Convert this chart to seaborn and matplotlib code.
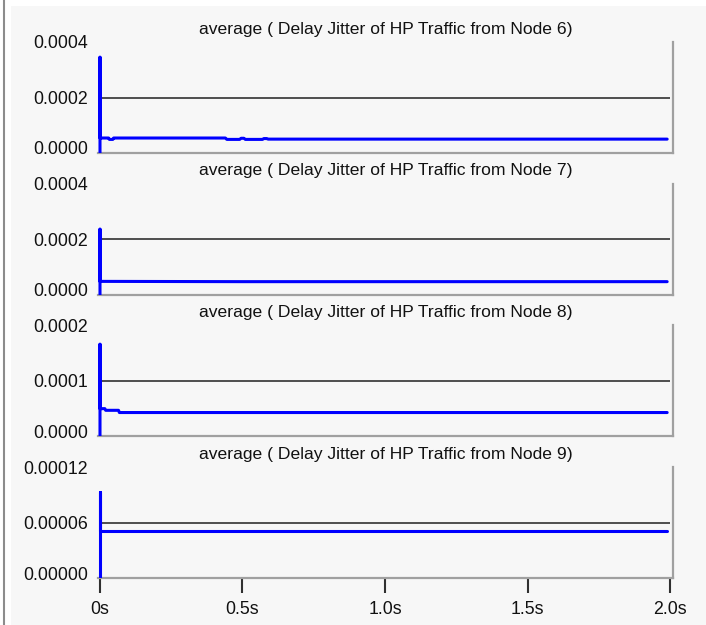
import matplotlib
matplotlib.use("Agg")
import matplotlib.pyplot as plt
from matplotlib.patches import Rectangle
from matplotlib.lines import Line2D
import matplotlib.transforms as mtransforms
import seaborn as sns
import pandas as pd

sns.set_theme(style="white")
plt.rcParams["font.family"] = ["Liberation Sans", "DejaVu Sans"]

# Simulation time (s) and averaged delay jitter (s) per traffic source
node6_t = [0.0, 0.0, 0.0, 0.03, 0.033, 0.045, 0.048, 0.44, 0.445, 0.49, 0.495, 0.505,
           0.51, 0.57, 0.575, 0.585, 0.59, 1.0, 1.5, 1.99]
node6_v = [0.0, 0.000345, 0.000054, 0.000054, 0.000049, 0.000049, 0.000054, 0.000054,
           0.000049, 0.000049, 0.000053, 0.000053, 0.000049, 0.000049, 0.000052,
           0.000052, 0.00005, 0.00005, 0.00005, 0.00005]

node7_t = [0.0, 0.0, 0.0, 0.5, 1.0, 1.5, 1.99]
node7_v = [0.0, 0.000236, 0.000048, 0.000047, 0.000047, 0.000047, 0.000047]

node8_t = [0.0, 0.0, 0.0, 0.017, 0.02, 0.065, 0.068, 1.0, 1.99]
node8_v = [0.0, 0.000166, 0.00005, 0.00005, 0.000047, 0.000047, 0.000043, 0.000043, 0.000043]

node9_t = [0.0, 0.0, 0.0, 1.0, 1.99]
node9_v = [0.0, 0.0000932, 0.0000504, 0.0000504, 0.0000504]

titles = [
    "average ( Delay Jitter of HP Traffic from Node 6)",
    "average ( Delay Jitter of HP Traffic from Node 7)",
    "average ( Delay Jitter of HP Traffic from Node 8)",
    "average ( Delay Jitter of HP Traffic from Node 9)",
]
y_ticks = [
    [0.0, 0.0002, 0.0004],
    [0.0, 0.0002, 0.0004],
    [0.0, 0.0001, 0.0002],
    [0.0, 0.00006, 0.00012],
]
y_labels = [
    ["0.0000", "0.0002", "0.0004"],
    ["0.0000", "0.0002", "0.0004"],
    ["0.0000", "0.0001", "0.0002"],
    ["0.00000", "0.00006", "0.00012"],
]
x_ticks = [0.0, 0.5, 1.0, 1.5, 2.0]
x_labels = ["0s", "0.5s", "1.0s", "1.5s", "2.0s"]

series = [(node6_t, node6_v), (node7_t, node7_v), (node8_t, node8_v), (node9_t, node9_v)]

W, H = 706, 625
BG = "#f7f7f7"
SPINE = "#a0a0a0"
TXT = "#111111"

fig = plt.figure(figsize=(W / 100, H / 100), dpi=100, facecolor="white")
fig.patches.append(Rectangle((11 / W, 0), 1 - 11 / W, 1 - 6 / H,
                             transform=fig.transFigure, facecolor=BG,
                             edgecolor="none", zorder=-10))
fig.lines.append(Line2D([3.5 / W, 3.5 / W], [0, 1], transform=fig.transFigure,
                        color="#8c8c8c", lw=1.5))

left_px, right_px = 98, 673
panel_h = 111
step = 141.7
lift = mtransforms.ScaledTranslation(0, 5 / 100, fig.dpi_scale_trans)

for i, ((t, v), title, yt, yl) in enumerate(zip(series, titles, y_ticks, y_labels)):
    bottom_px = 153 + step * i
    ax = fig.add_axes([left_px / W, (H - bottom_px) / H,
                       (right_px - left_px) / W, panel_h / H])
    ax.set_facecolor("none")
    df = pd.DataFrame({"time": t, "jitter": v})
    # reference level at the middle tick
    ax.hlines(yt[1], 0.0, 2.0, color="#202020", lw=1.1, zorder=1)
    sns.lineplot(data=df, x="time", y="jitter", ax=ax, estimator=None, sort=False,
                 color="#0000ff", lw=2.2, zorder=3)
    ax.set_xlim(-0.007, 2.0105)
    ax.set_ylim(yt[0], yt[2])
    ax.set_yticks(yt)
    ax.set_yticklabels(yl)
    ax.set_xlabel("")
    ax.set_ylabel("")
    for s in ("top", "left"):
        ax.spines[s].set_visible(False)
    for s in ("bottom", "right"):
        ax.spines[s].set_color(SPINE)
        ax.spines[s].set_linewidth(1.6)
    ax.tick_params(axis="y", length=0, pad=7, labelsize=12.8, labelcolor=TXT)
    # the zero label sits a little above the baseline
    zero_lab = ax.get_yticklabels()[0]
    zero_lab.set_transform(zero_lab.get_transform() + lift)
    ax.set_title(title, fontsize=12.6, pad=6, color=TXT)
    if i == 3:
        ax.set_xticks(x_ticks)
        ax.set_xticklabels(x_labels)
        ax.tick_params(axis="x", direction="out", length=10.5, width=1.5,
                       color="#303030", pad=6, labelsize=12.8, labelcolor=TXT,
                       bottom=True)
    else:
        ax.set_xticks([])

fig.savefig("out.png", dpi=100, facecolor=fig.get_facecolor())
